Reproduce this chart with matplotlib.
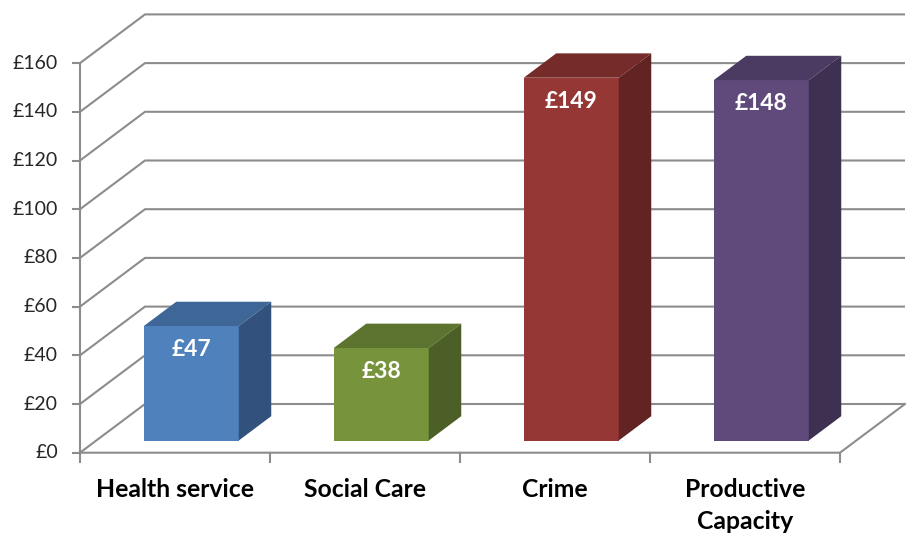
import matplotlib
matplotlib.use("Agg")
import matplotlib.pyplot as plt
from matplotlib.patches import Polygon

categories = ["Health service", "Social Care", "Crime", "Productive\nCapacity"]
values = [47, 38, 149, 148]
value_labels = ["£47", "£38", "£149", "£148"]
yticks = [0, 20, 40, 60, 80, 100, 120, 140, 160]
ytick_labels = ["£0", "£20", "£40", "£60", "£80", "£100", "£120", "£140", "£160"]

front_colors = ["#4F81BD", "#77933C", "#953735", "#604A7B"]
top_colors = ["#3E6696", "#5D7430", "#742B2A", "#4B3A61"]
side_colors = ["#32527D", "#4B5F27", "#622323", "#3E3050"]

# oblique projection: full depth shifts by (SX category units, SY value units)
SX = 65 / 190.0
SY = 20.0
W = 0.5           # bar width (category units)
D0, D1 = 0.25, 0.75  # bar depth span

fig = plt.figure(figsize=(9.12, 5.33), dpi=100)
ax = fig.add_axes([0, 0, 1, 1])
px_per_cat = 190.0
px_per_val = 48.7 / 20.0
x0_px, y0_px = 80.0, 533 - 452.7
ax.set_xlim(-0.5 - x0_px / px_per_cat, -0.5 + (912 - x0_px) / px_per_cat)
ax.set_ylim(-y0_px / px_per_val, (533 - y0_px) / px_per_val)
ax.axis("off")

n = len(categories)
xl, xr = -0.5, n - 0.5
grid_c = "#8C8C8C"
lw = 1.5

# back wall gridlines + left wall diagonals
for v in yticks:
    ax.plot([xl, xl + SX, xr + SX], [v, v + SY, v + SY], color=grid_c, lw=lw,
            solid_capstyle="butt", zorder=1)
# floor front edge and right edge
ax.plot([xl, xr, xr + SX], [0, 0, SY], color=grid_c, lw=lw, zorder=1)
# left axis
ax.plot([xl, xl], [0, yticks[-1]], color=grid_c, lw=lw, zorder=1)
tick_len_x = 7 / px_per_cat
for v, lab in zip(yticks, ytick_labels):
    ax.plot([xl - tick_len_x, xl], [v, v], color=grid_c, lw=lw, zorder=1)
    ax.text(xl - 22 / px_per_cat, v, lab, ha="right", va="center",
            fontsize=14, family="Lato", color="#262626")
# category ticks
tick_len_y = 9 / px_per_val
for i in range(n + 1):
    ax.plot([xl + i, xl + i], [0, -tick_len_y], color=grid_c, lw=lw, zorder=1)

# bars
xs = list(range(n))
fx = [x - W / 2 + D0 * SX for x in xs]
ax.bar(fx, values, width=W, bottom=D0 * SY, align="edge",
       color=front_colors, edgecolor="none", zorder=3)
dx = (D1 - D0) * SX
dy = (D1 - D0) * SY
for i, v in enumerate(values):
    l = fx[i]
    r = l + W
    b = D0 * SY
    t = b + v
    top = Polygon([(l, t), (r, t), (r + dx, t + dy), (l + dx, t + dy)],
                  closed=True, facecolor=top_colors[i], edgecolor="none", zorder=3)
    side = Polygon([(r, b), (r + dx, b + dy), (r + dx, t + dy), (r, t)],
                   closed=True, facecolor=side_colors[i], edgecolor="none", zorder=3)
    ax.add_patch(top)
    ax.add_patch(side)
    ax.text(l + W / 2, t - 9.6, value_labels[i], ha="center", va="center",
            fontsize=16.5, fontweight="bold", family="Lato", color="white", zorder=4)

for i, c in enumerate(categories):
    ax.text(xs[i], -10.3, c, ha="center", va="top", fontsize=17.8,
            fontweight="bold", family="Lato", color="black", linespacing=1.5)

fig.savefig("out.png", dpi=100)
